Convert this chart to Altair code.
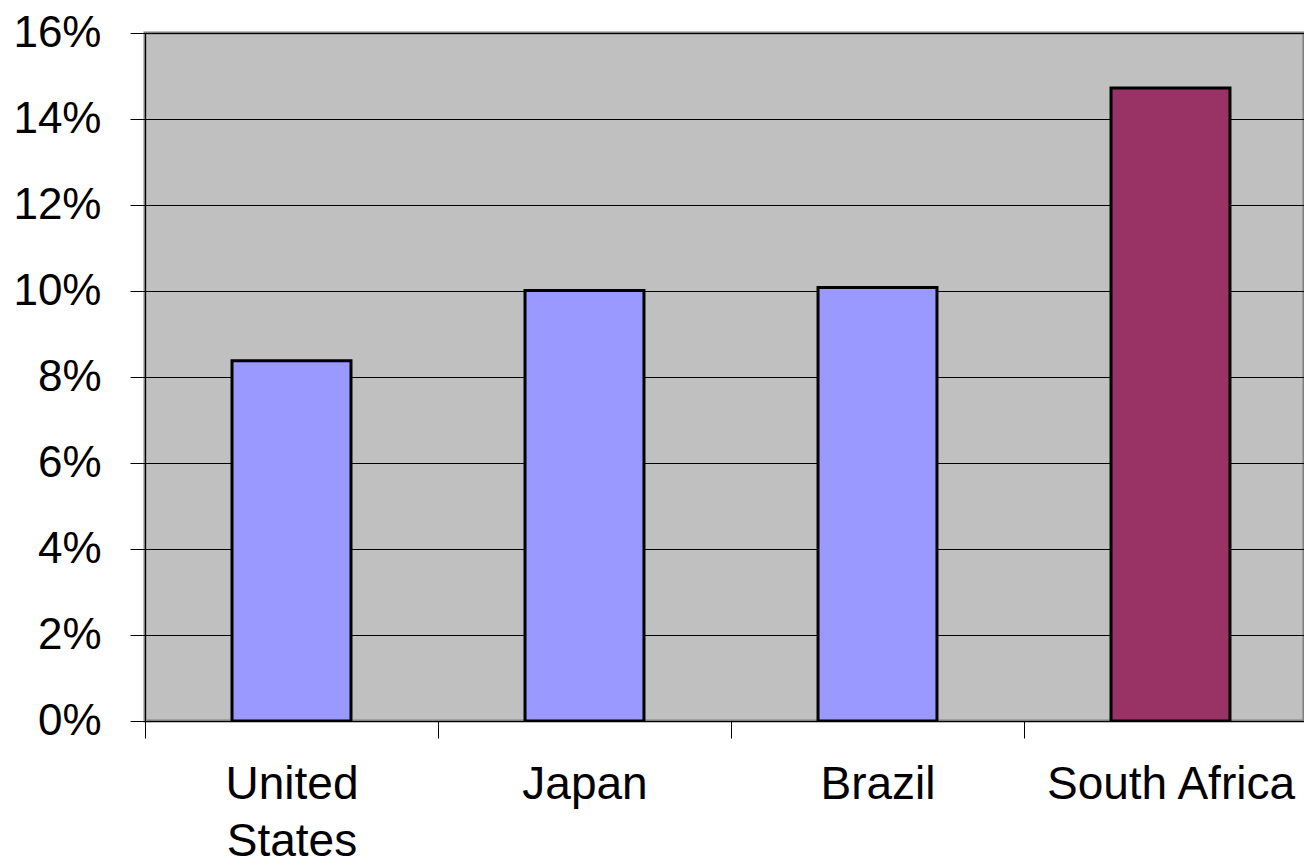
import altair as alt
import pandas as pd

countries = ["United States", "Japan", "Brazil", "South Africa"]
values = [0.0838, 0.1001, 0.1008, 0.1472]
bar_colors = ["#9999FF", "#9999FF", "#9999FF", "#993366"]
y_ticks = [0, 0.02, 0.04, 0.06, 0.08, 0.10, 0.12, 0.14, 0.16]

df = pd.DataFrame({"country": countries, "value": values})

FONT = "Liberation Sans"
STEP = 293

bars = alt.Chart(df).mark_bar(stroke="black", strokeWidth=3, clip=True).encode(
    x=alt.X(
        "country:N",
        sort=countries,
        scale=alt.Scale(range=[0, 4 * STEP], paddingInner=0.594, paddingOuter=0.297),
        axis=alt.Axis(
            title=None,
            labelAngle=0,
            labelFont=FONT,
            labelFontSize=46,
            labelColor="black",
            labelPadding=24,
            labelLineHeight=57,
            labelBaseline="top",
            labelLimit=1000,
            labelExpr="datum.label == 'United States' ? ['United', 'States'] : datum.label",
            tickOffset=-STEP / 2,
            labelOffset=STEP / 2,
            tickSize=17,
            tickColor="black",
            domainColor="black",
            domainWidth=1,
            grid=False,
        ),
    ),
    y=alt.Y(
        "value:Q",
        scale=alt.Scale(domain=[0, 0.16], nice=False),
        axis=alt.Axis(
            title=None,
            values=y_ticks,
            format=".0%",
            labelFont=FONT,
            labelFontSize=44,
            labelColor="black",
            labelPadding=29,
            tickSize=15,
            tickColor="black",
            domainColor="black",
            grid=True,
            gridColor="black",
            gridWidth=1,
            gridOpacity=1,
        ),
    ),
    color=alt.Color(
        "country:N",
        scale=alt.Scale(domain=countries, range=bar_colors),
        legend=None,
    ),
)

chart = bars.properties(
    width=1159,
    height=688,
    autosize=alt.AutoSizeParams(type="none"),
    padding={"left": 145, "top": 33, "right": 0, "bottom": 144},
    background="white",
).configure_view(
    fill="#C0C0C0",
    stroke="#808080",
    strokeWidth=3,
)

chart.save("out.html", embed_options={"renderer": "svg", "actions": False})
